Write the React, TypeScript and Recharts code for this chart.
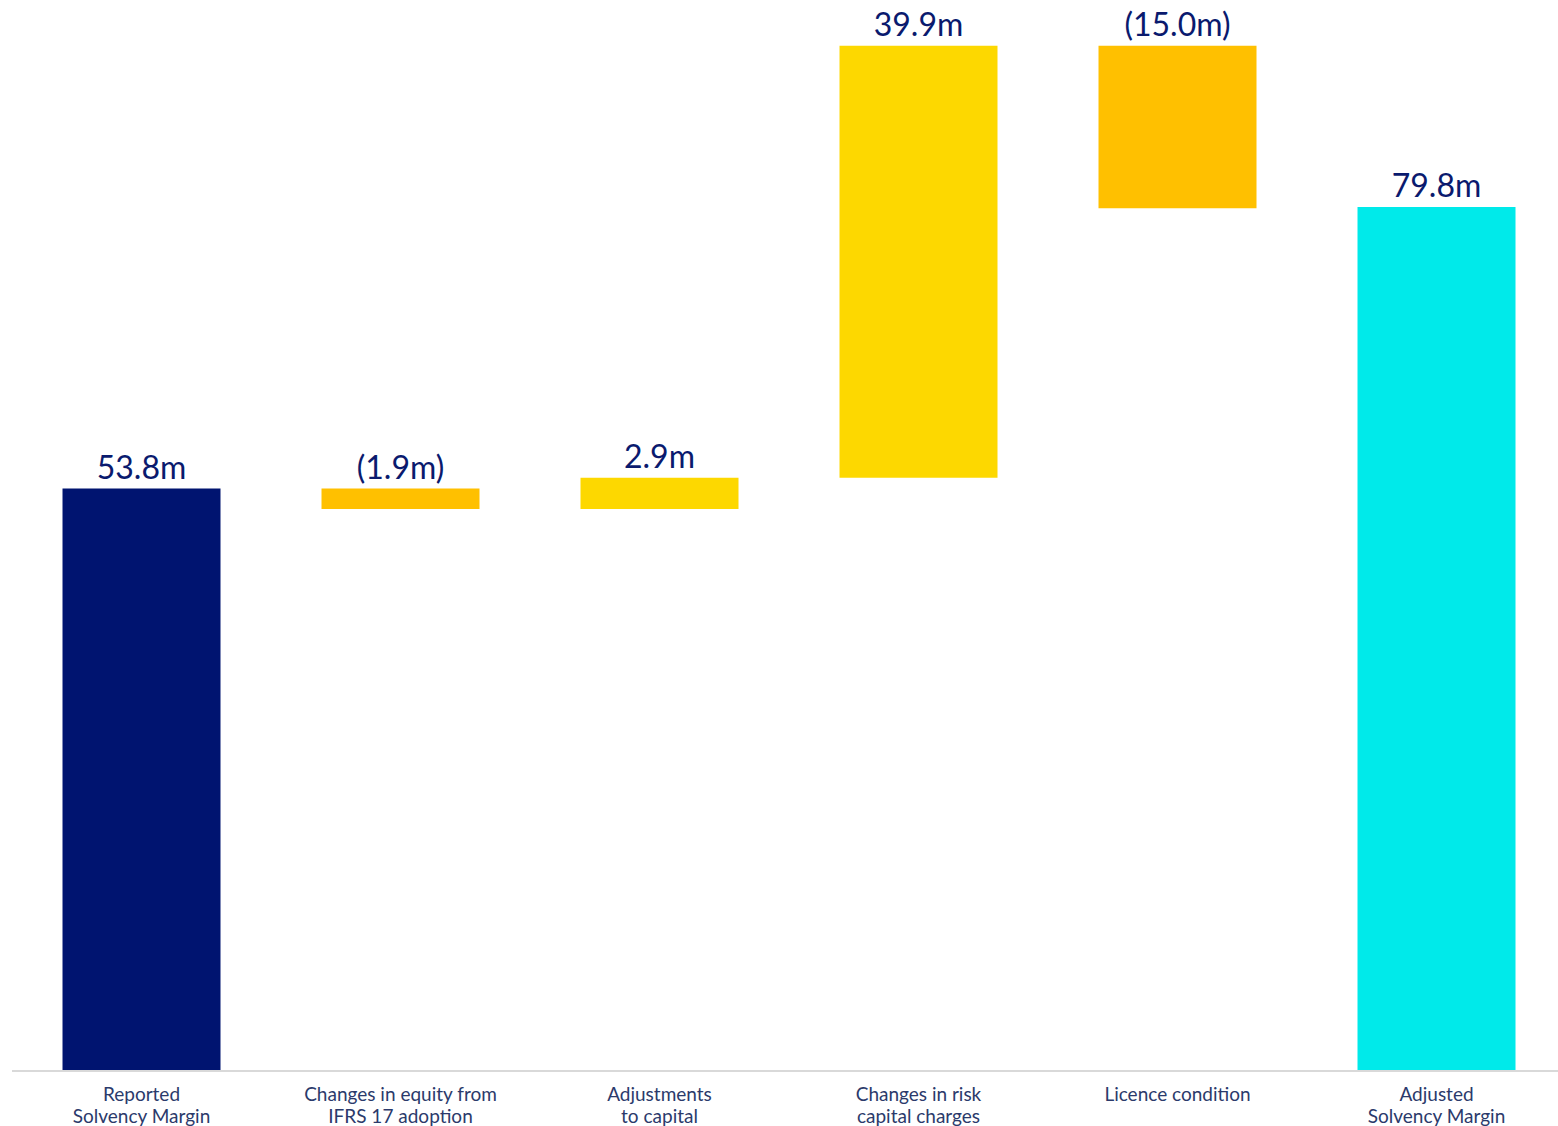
import React from 'react';
import { BarChart, Bar, XAxis, YAxis, Cell, LabelList } from 'recharts';

// Waterfall steps
const categories: string[] = [
  'Reported\nSolvency Margin',
  'Changes in equity from\nIFRS 17 adoption',
  'Adjustments\nto capital',
  'Changes in risk\ncapital charges',
  'Licence condition',
  'Adjusted\nSolvency Margin',
];
const stepValues: number[] = [53.8, -1.9, 2.9, 39.9, -15.0, 79.8];
const stepKinds: string[] = ['total', 'delta', 'delta', 'delta', 'delta', 'total'];
const valueLabels: string[] = ['53.8m', '(1.9m)', '2.9m', '39.9m', '(15.0m)', '79.8m'];

const NAVY = '#001470';
const AMBER = '#FFC000';
const YELLOW = '#FDD800';
const CYAN = '#00EAEA';

const colorFor = (kind: string, v: number, i: number) => {
  if (kind === 'total') return i === 0 ? NAVY : CYAN;
  return v < 0 ? AMBER : YELLOW;
};

// build stacked base + visible part
let running = 0;
const chartData = categories.map((name, i) => {
  const v = stepValues[i];
  let base = 0;
  let value = 0;
  if (stepKinds[i] === 'total') {
    base = 0;
    value = v;
    running = v;
  } else if (v >= 0) {
    base = running;
    value = v;
    running += v;
  } else {
    base = running + v;
    value = -v;
    running += v;
  }
  return { name, base, value, label: valueLabels[i], color: colorFor(stepKinds[i], v, i) };
});

const FONT = 'Lato, "Open Sans", sans-serif';

const renderTick = (props: any) => {
  const { x, y, payload } = props;
  const lines = String(payload.value).split('\n');
  return (
    <text x={x} y={y} textAnchor="middle" fill="#2B3A6B" fontSize={19} fontFamily={FONT}>
      {lines.map((l, i) => (
        <tspan key={i} x={x} dy={i === 0 ? 22 : 22}>{l}</tspan>
      ))}
    </text>
  );
};

const renderLabel = (props: any) => {
  const { x, y, width, index } = props;
  return (
    <text
      x={Number(x) + Number(width) / 2}
      y={Number(y) - 10}
      textAnchor="middle"
      fill="#0A1A6E"
      fontSize={32}
      fontFamily={FONT}
    >
      {chartData[index].label}
    </text>
  );
};

const App: React.FC = () => {
  return (
    <div style={{ position: 'absolute', top: 0, left: 0, width: 1558, height: 1126, overflow: 'hidden', background: '#fff' }}>
      <BarChart
        width={1566}
        height={1126}
        data={chartData}
        margin={{ top: 10, right: 0, bottom: 0, left: 12 }}
        barCategoryGap="19.5%"
      >
        <XAxis
          dataKey="name"
          interval={0}
          tickLine={false}
          axisLine={{ stroke: '#D9D9D9', strokeWidth: 2 }}
          height={55}
          tick={renderTick}
        />
        <YAxis hide domain={[0, 98]} />
        <Bar dataKey="base" stackId="w" fill="none" fillOpacity={0} isAnimationActive={false} />
        <Bar dataKey="value" stackId="w" isAnimationActive={false}>
          {chartData.map((d, i) => (
            <Cell key={`c-${i}`} fill={d.color} />
          ))}
          <LabelList dataKey="label" content={renderLabel} />
        </Bar>
      </BarChart>
    </div>
  );
};

export default App;
